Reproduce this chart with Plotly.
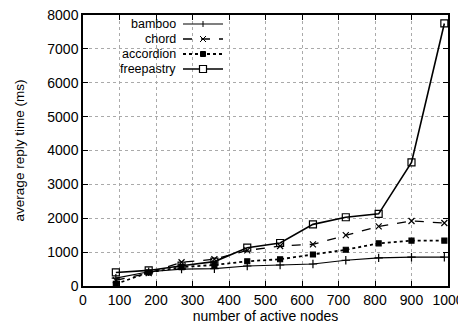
import plotly.graph_objects as go

nodes = [90, 180, 270, 360, 450, 540, 630, 720, 810, 900, 990]
bamboo = [230, 420, 500, 510, 590, 620, 650, 760, 830, 850, 850]
chord = [170, 380, 700, 790, 1050, 1180, 1230, 1500, 1760, 1920, 1860]
accordion = [60, 400, 560, 620, 730, 790, 930, 1070, 1260, 1340, 1340]
freepastry = [400, 460, 600, 720, 1130, 1270, 1820, 2030, 2130, 3650, 7750]

series_names = ["bamboo", "chord", "accordion", "freepastry"]
series_vals = [bamboo, chord, accordion, freepastry]
dashes = ["solid", "dash", "dot", "solid"]
widths = [1.2, 1.3, 1.8, 1.6]
symbols = ["cross-thin", "x-thin", "square", "square-open"]
msizes = [6, 6, 5, 7]

x_ticks = list(range(0, 1001, 100))
y_ticks = list(range(0, 8001, 1000))

# page body has an 8px margin, so the figure starts at (8, 8) in the window
OFF = 8
W, H = 466 - OFF, 329 - OFF
L, R, T, B = 83 - OFF, 18, 15 - OFF, 43
pw, ph = W - L - R, H - T - B
FONT = "Liberation Sans, Arial"

fig = go.Figure()
for name, vals, d, w, s, ms in zip(series_names, series_vals, dashes, widths, symbols, msizes):
    fig.add_trace(go.Scatter(
        x=nodes, y=vals, mode="lines+markers", name=name,
        line=dict(color="black", width=w, dash=d),
        marker=dict(symbol=s, size=ms, color="black",
                    line=dict(color="black", width=1.2)),
        showlegend=False))

# custom legend (text right-aligned, sample line on the right)
def px2x(px):
    return (px - OFF - L) / pw

def py2y(py):
    return (H - B - (py - OFF)) / ph

rows = [24, 39, 54, 69]
shapes = []
annotations = []
for i, name in enumerate(series_names):
    yy = py2y(rows[i])
    annotations.append(dict(x=px2x(177), y=yy, xref="paper", yref="paper",
                            text=name, showarrow=False, xanchor="right",
                            yanchor="middle", borderpad=0,
                            font=dict(family=FONT, size=12.5, color="black")))
    shapes.append(dict(type="line", xref="paper", yref="paper",
                       x0=px2x(183), x1=px2x(223), y0=yy, y1=yy,
                       line=dict(color="black", width=widths[i], dash=dashes[i])))
    cx = px2x(203)
    dx = 3 / pw
    dy = 3 / ph
    if i == 0:
        shapes.append(dict(type="line", xref="paper", yref="paper",
                           x0=cx, x1=cx, y0=yy - dy, y1=yy + dy,
                           line=dict(color="black", width=1)))
    elif i == 1:
        shapes.append(dict(type="line", xref="paper", yref="paper",
                           x0=cx - dx, x1=cx + dx, y0=yy - dy, y1=yy + dy,
                           line=dict(color="black", width=1)))
        shapes.append(dict(type="line", xref="paper", yref="paper",
                           x0=cx - dx, x1=cx + dx, y0=yy + dy, y1=yy - dy,
                           line=dict(color="black", width=1)))
    elif i == 2:
        shapes.append(dict(type="rect", xref="paper", yref="paper",
                           x0=cx - 2.5 / pw, x1=cx + 2.5 / pw,
                           y0=yy - 2.5 / ph, y1=yy + 2.5 / ph,
                           fillcolor="black", line=dict(color="black", width=1)))
    else:
        shapes.append(dict(type="rect", xref="paper", yref="paper",
                           x0=cx - 3.5 / pw, x1=cx + 3.5 / pw,
                           y0=yy - 3.5 / ph, y1=yy + 3.5 / ph,
                           fillcolor="white", line=dict(color="black", width=1.2)))

axis_common = dict(
    showline=True, linecolor="black", linewidth=1.5, mirror="ticks",
    ticks="inside", ticklen=5, tickcolor="black", tickwidth=1,
    showgrid=True, gridcolor="#aaaaaa", griddash="dot", gridwidth=1,
    zeroline=False, automargin=False, ticklabeloverflow="allow",
    tickfont=dict(family=FONT, size=14, color="black"),
)

fig.update_layout(
    width=W, height=H,
    margin=dict(l=L, r=R, t=T, b=B),
    paper_bgcolor="white", plot_bgcolor="white",
    xaxis=dict(range=[0, 1000], tickvals=x_ticks,
               title=dict(text="number of active nodes", standoff=5,
                          font=dict(family=FONT, size=14, color="black")),
               **axis_common),
    yaxis=dict(range=[0, 8000], tickvals=y_ticks,
               title=dict(text="average reply time (ms)", standoff=20,
                          font=dict(family=FONT, size=13.5, color="black")),
               **axis_common),
    shapes=shapes,
    annotations=annotations,
)

fig.write_html("out.html")
